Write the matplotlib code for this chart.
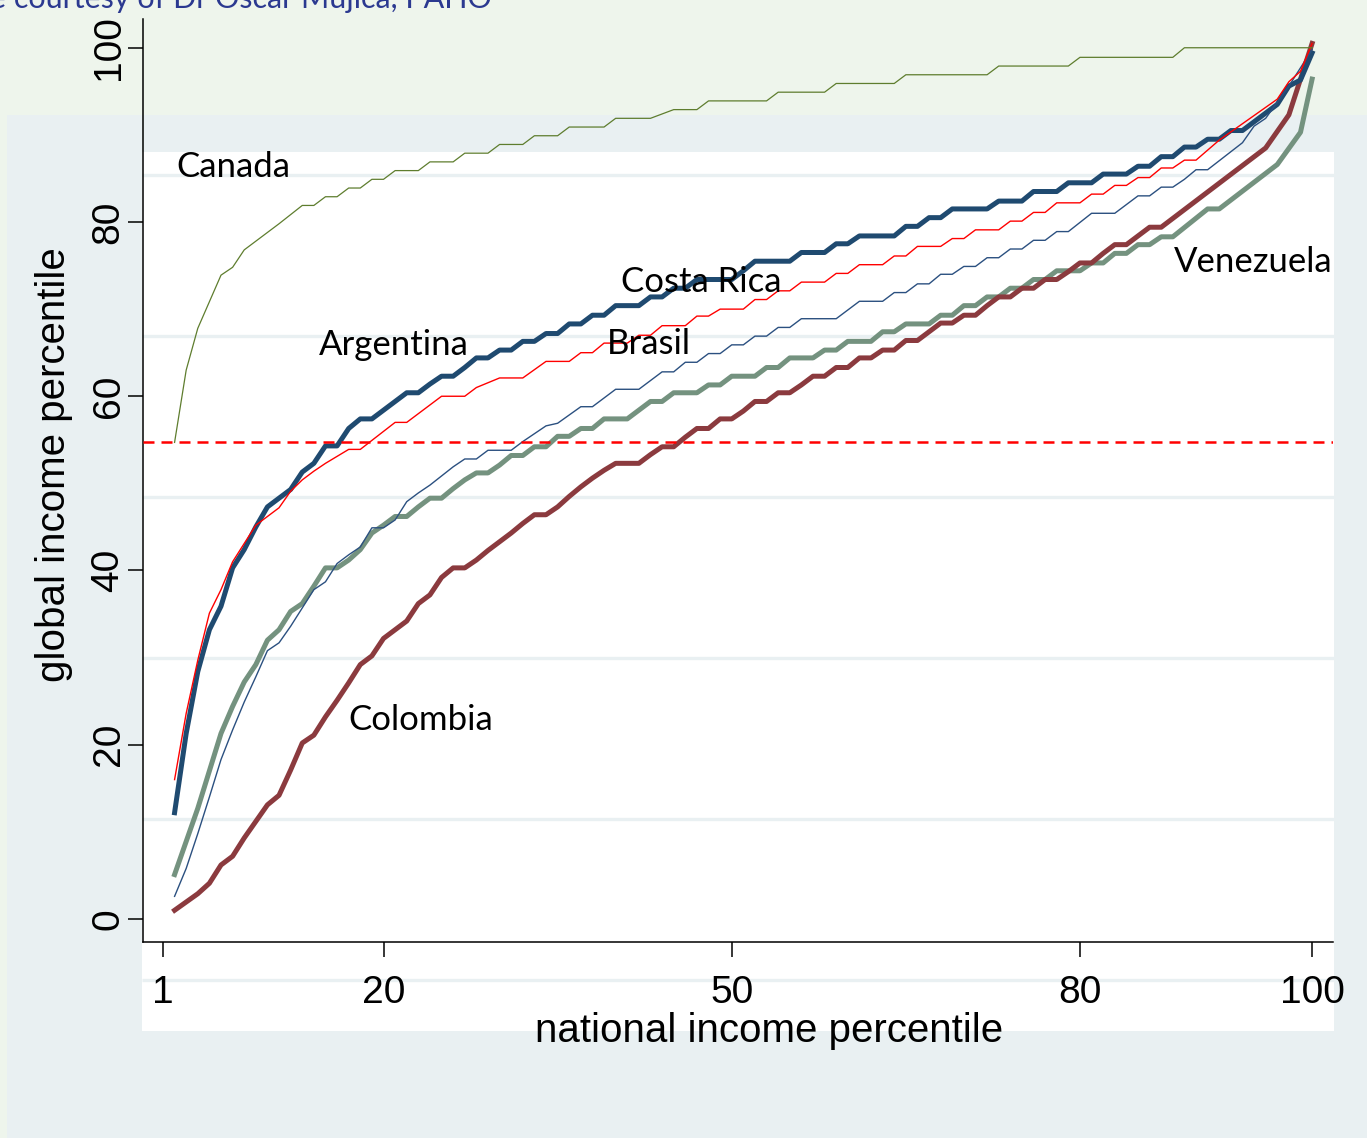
import matplotlib.pyplot as plt
from matplotlib.patches import Rectangle

# (national income percentile, global income percentile) for each country
canada = [(2, 54.7), (3, 63.0), (4, 67.8), (6, 73.9), (7, 74.8), (8, 76.8), (9, 77.8),
          (11, 79.8), (13, 81.9), (14, 81.9), (15, 82.9), (16, 82.9), (17, 83.9),
          (18, 83.9), (19, 84.9), (20, 84.9), (21, 85.9), (23, 85.9), (24, 86.9),
          (26, 86.9), (27, 87.9), (29, 87.9), (30, 88.9), (32, 88.9), (33, 89.9),
          (35, 89.9), (36, 90.9), (39, 90.9), (40, 91.9), (43, 91.9), (45, 92.9),
          (47, 92.9), (48, 93.9), (53, 93.9), (54, 94.9), (58, 94.9), (59, 95.9),
          (64, 95.9), (65, 96.9), (72, 96.9), (73, 97.9), (79, 97.9), (80, 98.9),
          (88, 98.9), (89, 100.0), (100, 100.0)]

argentina = [(2, 12.2), (3, 21.3), (4, 28.4), (5, 33.2), (6, 35.9), (7, 40.3), (8, 42.4),
             (9, 45.0), (10, 47.3), (11, 48.3), (12, 49.3), (13, 51.3), (14, 52.3),
             (15, 54.3), (16, 54.3), (17, 56.3), (18, 57.4), (19, 57.4), (20, 58.4),
             (21, 59.4), (22, 60.4), (23, 60.4), (24, 61.4), (25, 62.3), (26, 62.3),
             (27, 63.3), (28, 64.4), (29, 64.4), (30, 65.3), (31, 65.3), (32, 66.3),
             (33, 66.3), (34, 67.2), (35, 67.2), (36, 68.3), (37, 68.3), (38, 69.3),
             (39, 69.3), (40, 70.4), (42, 70.4), (43, 71.4), (44, 71.4), (45, 72.4),
             (46, 72.4), (47, 73.4), (50, 73.4), (51, 74.4), (52, 75.5), (55, 75.5),
             (56, 76.5), (58, 76.5), (59, 77.5), (60, 77.5), (61, 78.4), (64, 78.4),
             (65, 79.5), (66, 79.5), (67, 80.5), (68, 80.5), (69, 81.5), (72, 81.5),
             (73, 82.4), (75, 82.4), (76, 83.5), (78, 83.5), (79, 84.5), (81, 84.5),
             (82, 85.5), (84, 85.5), (85, 86.4), (86, 86.4), (87, 87.5), (88, 87.5),
             (89, 88.6), (90, 88.6), (91, 89.5), (92, 89.5), (93, 90.5), (94, 90.5),
             (95, 91.5), (97, 93.5), (98, 95.6), (99, 96.3), (100, 99.4)]

costa_rica = [(2, 16.0), (3, 23.6), (4, 29.7), (5, 35.1), (6, 37.8), (7, 41.0), (8, 43.1),
              (9, 45.2), (10, 46.2), (11, 47.2), (12, 49.1), (13, 50.4), (14, 51.4),
              (15, 52.3), (16, 53.1), (17, 53.9), (18, 53.9), (21, 57.0), (22, 57.0),
              (25, 60.0), (27, 60.0), (28, 61.0), (30, 62.1), (32, 62.1), (34, 64.0),
              (36, 64.0), (37, 65.0), (38, 65.0), (39, 66.1), (41, 66.1), (42, 67.0),
              (43, 67.0), (44, 68.1), (46, 68.1), (47, 69.2), (48, 69.2), (49, 70.0),
              (51, 70.0), (52, 71.1), (53, 71.1), (54, 72.1), (55, 72.1), (56, 73.1),
              (58, 73.1), (59, 74.1), (60, 74.1), (61, 75.1), (63, 75.1), (64, 76.1),
              (65, 76.1), (66, 77.2), (68, 77.2), (69, 78.1), (70, 78.1), (71, 79.1),
              (73, 79.1), (74, 80.1), (75, 80.1), (76, 81.1), (77, 81.1), (78, 82.2),
              (80, 82.2), (81, 83.2), (82, 83.2), (83, 84.2), (84, 84.2), (85, 85.1),
              (86, 85.1), (87, 86.2), (88, 86.2), (89, 87.1), (90, 87.1), (92, 89.4),
              (97, 94.1), (98, 96.1), (99, 97.3), (100, 100.5)]

brasil = [(2, 2.6), (3, 5.8), (4, 9.8), (5, 14.0), (6, 18.3), (7, 21.7), (8, 24.9),
          (9, 27.8), (10, 30.8), (11, 31.7), (12, 33.6), (13, 35.7), (14, 37.8),
          (15, 38.7), (16, 40.8), (17, 41.8), (18, 42.7), (19, 44.9), (20, 44.9),
          (21, 45.8), (22, 47.9), (23, 48.9), (24, 49.8), (26, 51.9), (27, 52.8),
          (28, 52.8), (29, 53.8), (31, 53.8), (32, 54.8), (34, 56.6), (35, 56.9),
          (37, 58.8), (38, 58.8), (40, 60.8), (42, 60.8), (44, 62.8), (45, 62.8),
          (46, 63.9), (47, 63.9), (48, 64.9), (49, 64.9), (50, 65.9), (51, 65.9),
          (52, 66.9), (53, 66.9), (54, 67.9), (55, 67.9), (56, 68.9), (59, 68.9),
          (60, 69.9), (61, 70.9), (63, 70.9), (64, 71.9), (65, 71.9), (66, 72.9),
          (67, 72.9), (68, 74.0), (69, 74.0), (70, 74.9), (71, 74.9), (72, 75.9),
          (73, 75.9), (74, 76.9), (75, 76.9), (76, 77.9), (77, 77.9), (78, 78.9),
          (79, 78.9), (81, 81.0), (83, 81.0), (85, 83.0), (86, 83.0), (87, 84.0),
          (88, 84.0), (89, 84.9), (90, 86.0), (91, 86.0), (94, 89.1), (95, 91.0),
          (96, 91.9), (98, 95.6), (100, 99.8)]

venezuela = [(2, 5.1), (4, 12.7), (6, 21.3), (7, 24.4), (8, 27.2), (9, 29.2), (10, 32.0),
             (11, 33.2), (12, 35.3), (13, 36.2), (14, 38.2), (15, 40.3), (16, 40.3),
             (17, 41.2), (18, 42.4), (19, 44.3), (20, 45.2), (21, 46.2), (22, 46.2),
             (23, 47.3), (24, 48.3), (25, 48.3), (26, 49.4), (27, 50.4), (28, 51.2),
             (29, 51.2), (30, 52.1), (31, 53.2), (32, 53.2), (33, 54.2), (34, 54.2),
             (35, 55.4), (36, 55.4), (37, 56.3), (38, 56.3), (39, 57.4), (41, 57.4),
             (42, 58.4), (43, 59.4), (44, 59.4), (45, 60.4), (47, 60.4), (48, 61.3),
             (49, 61.3), (50, 62.3), (52, 62.3), (53, 63.3), (54, 63.3), (55, 64.4),
             (57, 64.4), (58, 65.3), (59, 65.3), (60, 66.3), (62, 66.3), (63, 67.4),
             (64, 67.4), (65, 68.3), (67, 68.3), (68, 69.3), (69, 69.3), (70, 70.4),
             (71, 70.4), (72, 71.4), (73, 71.4), (74, 72.4), (75, 72.4), (76, 73.4),
             (77, 73.4), (78, 74.4), (80, 74.4), (81, 75.3), (82, 75.3), (83, 76.4),
             (84, 76.4), (85, 77.4), (86, 77.4), (87, 78.3), (88, 78.3), (91, 81.5),
             (92, 81.5), (97, 86.6), (99, 90.3), (100, 96.4)]

colombia = [(2, 1.0), (4, 2.9), (5, 4.1), (6, 6.2), (7, 7.2), (8, 9.3), (9, 11.2),
            (10, 13.1), (11, 14.2), (12, 17.1), (13, 20.2), (14, 21.1), (15, 23.2),
            (16, 25.1), (17, 27.1), (18, 29.2), (19, 30.2), (20, 32.2), (21, 33.2),
            (22, 34.2), (23, 36.2), (24, 37.2), (25, 39.2), (26, 40.3), (27, 40.3),
            (28, 41.2), (29, 42.3), (30, 43.3), (31, 44.3), (32, 45.4), (33, 46.4),
            (34, 46.4), (35, 47.3), (36, 48.5), (37, 49.6), (38, 50.6), (39, 51.5),
            (40, 52.3), (42, 52.3), (43, 53.3), (44, 54.2), (45, 54.2), (46, 55.3),
            (47, 56.3), (48, 56.3), (49, 57.4), (50, 57.4), (51, 58.3), (52, 59.4),
            (53, 59.4), (54, 60.4), (55, 60.4), (56, 61.3), (57, 62.3), (58, 62.3),
            (59, 63.3), (60, 63.3), (61, 64.4), (62, 64.4), (63, 65.3), (64, 65.3),
            (65, 66.4), (66, 66.4), (68, 68.4), (69, 68.4), (70, 69.3), (71, 69.3),
            (72, 70.4), (73, 71.4), (74, 71.4), (75, 72.4), (76, 72.4), (77, 73.4),
            (78, 73.4), (79, 74.3), (80, 75.3), (81, 75.3), (82, 76.4), (83, 77.4),
            (84, 77.4), (85, 78.4), (86, 79.4), (87, 79.4), (96, 88.5), (98, 92.3),
            (100, 100.5)]

global_line = 54.7
xticks = [1, 20, 50, 80, 100]
yticks = [0, 20, 40, 60, 80, 100]

plt.rcParams['font.family'] = ['Liberation Sans', 'DejaVu Sans']

W, H = 1367, 1138
fig = plt.figure(figsize=(W / 100, H / 100), dpi=100)
fig.patch.set_facecolor('#e9f0f2')

# slide background behind the graph
bg = fig.add_axes([0, 0, 1, 1], zorder=0)
bg.set_xlim(0, W)
bg.set_ylim(H, 0)
bg.axis('off')
bg.add_patch(Rectangle((0, 0), W, 115, color='#eef5ec', lw=0))
bg.add_patch(Rectangle((0, 115), 7, H - 115, color='#eef5ec', lw=0))
bg.add_patch(Rectangle((142, 152), 1192, 879, color='white', lw=0))
for yy in [175, 336, 497, 658, 819, 980]:
    bg.plot([142, 1334], [yy, yy], color='#e9f0f2', lw=2.4, solid_capstyle='butt')
bg.text(-10, 8, 'e courtesy of Dr Oscar Mujica, PAHO', fontsize=22, family='Lato',
        color='#2b3990', ha='left', va='baseline')

ax = fig.add_axes([143 / W, 1 - 942 / H, (1333 - 143) / W, (942 - 19) / H], zorder=1)
ax.patch.set_alpha(0)
ax.set_xlim(-0.72, 101.8)
ax.set_ylim(-2.64, 103.3)


def draw(series, **kw):
    xs = [p for p, v in series]
    ys = [v for p, v in series]
    ax.plot(xs, ys, **kw)


draw(venezuela, color='#74927f', lw=3.6, zorder=2)
draw(colombia, color='#8b3a3e', lw=3.6, zorder=3)
draw(argentina, color='#1f4a70', lw=3.6, zorder=4)
draw(brasil, color='#2b5080', lw=1.0, zorder=5)
draw(costa_rica, color='#ff0000', lw=1.0, zorder=6)
draw(canada, color='#5e7d2e', lw=0.9, zorder=6)
ax.axhline(global_line, color='#ff0000', lw=1.8, dashes=(4.4, 2.8), zorder=7)

labels = [('Canada', 2.15, 85.2), ('Argentina', 14.44, 64.7), ('Costa Rica', 40.44, 72.0),
          ('Brasil', 39.26, 64.9), ('Colombia', 16.94, 21.7), ('Venezuela', 88.11, 74.3)]
for name, px, py in labels:
    ax.text(px, py, name, family='Lato', fontsize=25, color='black',
            ha='left', va='baseline', zorder=8)

for side in ['top', 'right']:
    ax.spines[side].set_visible(False)
for side in ['left', 'bottom']:
    ax.spines[side].set_linewidth(1.1)
    ax.spines[side].set_color('black')

ax.set_xticks(xticks)
ax.set_yticks(yticks)
ax.tick_params(axis='both', direction='out', length=10.8, width=1.1, labelsize=28)
ax.tick_params(axis='x', pad=13)
ax.tick_params(axis='y', pad=1)
for lbl in ax.get_yticklabels():
    lbl.set_rotation(90)
    lbl.set_va('center')

fig.text(769 / W, 1 - 1031 / H, 'national income percentile', fontsize=29,
         ha='center', va='center')
fig.text(54 / W, 1 - 465 / H, 'global income percentile', fontsize=29,
         rotation=90, ha='center', va='center')

fig.savefig('out.png', dpi=100, facecolor=fig.get_facecolor())
